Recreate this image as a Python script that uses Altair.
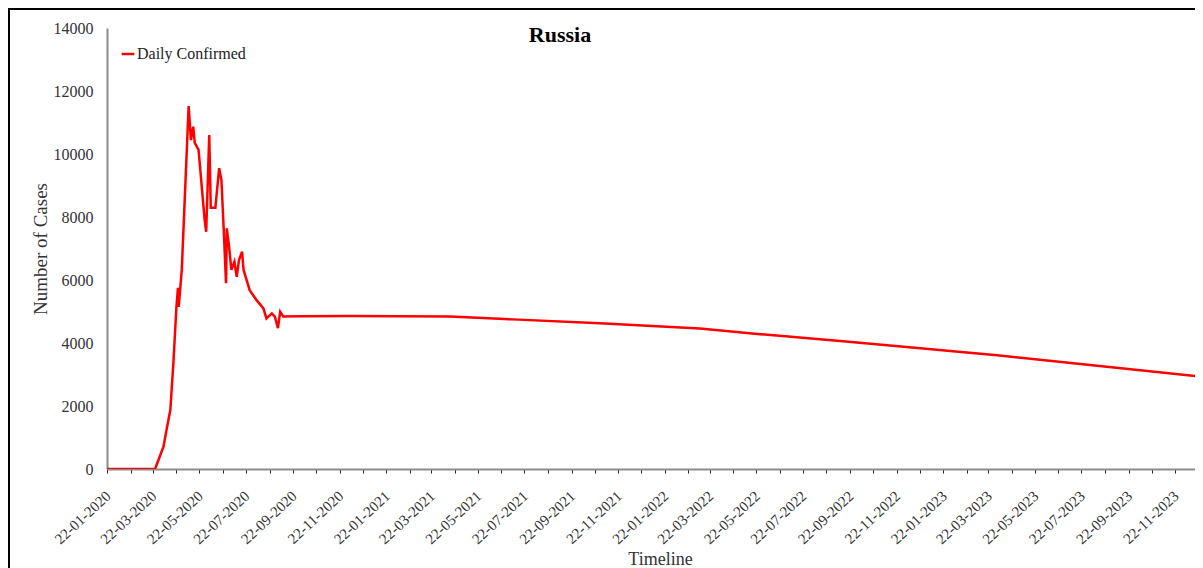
import altair as alt
import pandas as pd

# ---- data ----
dates = [
    "2020-01-22", "2020-03-25", "2020-03-31", "2020-04-05", "2020-04-09",
    "2020-04-14", "2020-04-18", "2020-04-22", "2020-04-24", "2020-04-25",
    "2020-04-29", "2020-05-08", "2020-05-11", "2020-05-14", "2020-05-16",
    "2020-05-21", "2020-05-29", "2020-05-31", "2020-06-04", "2020-06-06",
    "2020-06-12", "2020-06-17", "2020-06-20", "2020-06-23", "2020-06-26",
    "2020-06-27", "2020-06-30", "2020-07-03", "2020-07-07", "2020-07-10",
    "2020-07-13", "2020-07-17", "2020-07-19", "2020-07-27", "2020-08-05",
    "2020-08-14", "2020-08-18", "2020-08-25", "2020-08-29", "2020-09-02",
    "2020-09-05", "2020-09-09", "2020-10-01", "2020-12-05", "2021-04-16",
    "2021-07-07", "2021-10-29", "2022-03-09", "2022-05-27", "2022-09-09",
    "2022-12-23", "2023-04-06", "2023-08-15", "2023-12-28",
]
values = [
    0, 0, 390, 710, 1240,
    1870, 3360, 5150, 5750, 5150,
    6320, 11520, 10440, 10870, 10350,
    10130, 7900, 7530, 10600, 8290,
    8290, 9550, 9170, 7590, 5900,
    7640, 7060, 6320, 6580, 6100,
    6630, 6900, 6320, 5680, 5360,
    5100, 4780, 4940, 4840, 4470,
    4990, 4840, 4850, 4860, 4840,
    4750, 4630, 4460, 4280, 4060,
    3830, 3600, 3270, 2930,
]
series_name = "Daily Confirmed"
chart_title = "Russia"
y_ticks = [0, 2000, 4000, 6000, 8000, 10000, 12000, 14000]
tick_months = [(y, m) for y in (2020, 2021, 2022, 2023) for m in range(1, 13)]

df = pd.DataFrame({"date": dates, "value": values, "series": series_name})

FONT = "Liberation Serif"
TXT = "#333333"

x_enc = alt.X(
    "date:T",
    title="Timeline",
    scale=alt.Scale(
        type="utc",
        domain=[alt.DateTime(year=2020, month=1, date=22, utc=True),
                alt.DateTime(year=2023, month=12, date=18, utc=True)],
        nice=False,
    ),
    axis=alt.Axis(
        values=[alt.DateTime(year=y, month=m, date=22, utc=True) for y, m in tick_months],
        labelExpr="utcmonth(datum.value) % 2 == 0 ? utcFormat(datum.value, '%d-%m-%Y') : ''",
        labelAngle=-43,
        labelFont=FONT,
        labelFontSize=15,
        labelColor=TXT,
        labelPadding=15,
        labelOffset=-4,
        labelOverlap=False,
        tickSize=4,
        tickColor="#222222",
        tickWidth=1,
        domainColor="#8c8c8c",
        domainWidth=2,
        grid=False,
        titleFont=FONT,
        titleFontSize=18,
        titleFontWeight="normal",
        titleColor=TXT,
        titlePadding=4,
        titleX=553,
    ),
)

y_enc = alt.Y(
    "value:Q",
    title="Number of Cases",
    scale=alt.Scale(domain=[0, 14000], nice=False),
    axis=alt.Axis(
        values=y_ticks,
        format="d",
        labelFont=FONT,
        labelFontSize=16,
        labelColor=TXT,
        labelPadding=14,
        ticks=False,
        domainColor="#8c8c8c",
        domainWidth=2,
        grid=False,
        titleFont=FONT,
        titleFontSize=19,
        titleFontWeight="normal",
        titleColor=TXT,
        titlePadding=3,
    ),
)

line = alt.Chart(df).mark_line(strokeWidth=2.5, clip=True).encode(
    x=x_enc,
    y=y_enc,
    color=alt.Color(
        "series:N",
        scale=alt.Scale(range=["#ff0000"]),
        legend=alt.Legend(
            title=None,
            orient="none",
            legendX=13,
            legendY=18,
            symbolType="stroke",
            symbolSize=160,
            symbolStrokeWidth=2.5,
            labelFont=FONT,
            labelFontSize=16,
            labelColor="#222222",
            labelOffset=1,
            padding=0,
        ),
    ),
)

one = pd.DataFrame({"t": [chart_title]})

title = alt.Chart(one).mark_text(
    font=FONT, fontSize=22, fontWeight="bold", color="#000000",
    align="center", baseline="middle",
).encode(text="t:N", x=alt.value(453), y=alt.value(7))

frame_left = alt.Chart(one).mark_rule(color="#000000", strokeWidth=2).encode(
    x=alt.value(-98), y=alt.value(-19), y2=alt.value(560)
)
frame_top = alt.Chart(one).mark_rule(color="#000000", strokeWidth=2).encode(
    x=alt.value(-99), x2=alt.value(1100), y=alt.value(-19)
)

chart = (
    alt.layer(line, title, frame_left, frame_top)
    .properties(
        width=1088,
        height=441,
        autosize=alt.AutoSizeParams(type="none"),
        padding={"left": 99, "top": 20, "right": 0, "bottom": 99},
        background="white",
    )
    .configure_view(strokeWidth=0)
    .configure_axis(grid=False)
)

chart.save("out.html", embed_options={"renderer": "svg", "actions": False})
